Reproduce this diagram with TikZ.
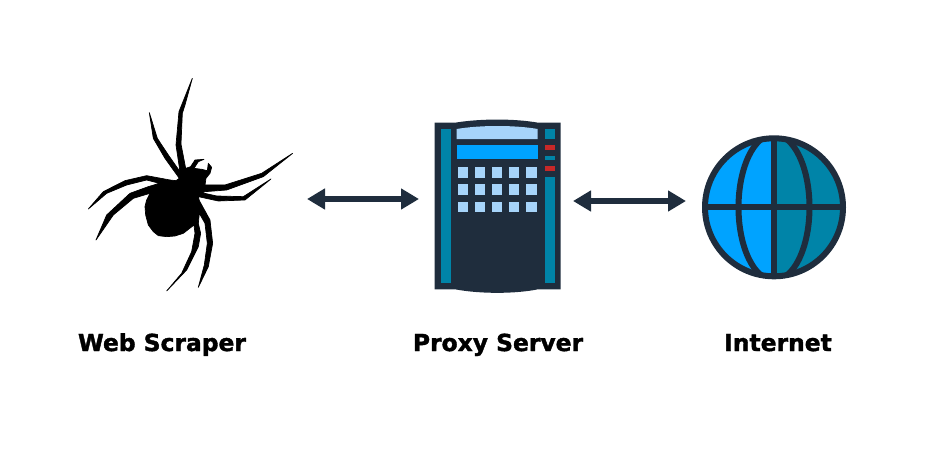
\documentclass[tikz,border=0pt]{standalone}
\usepackage{fontspec}
\setmainfont{DejaVu Sans}
\newfontfamily\labelfont[FakeBold=1.6]{DejaVu Sans Bold}
\usetikzlibrary{arrows.meta,positioning}

\definecolor{navy}{HTML}{1F2D3D}
\definecolor{skyblue}{HTML}{00A3FF}
\definecolor{teal}{HTML}{0084A8}
\definecolor{pale}{HTML}{A6D4FA}
\definecolor{alarm}{HTML}{C62828}

\begin{document}
\begin{tikzpicture}[
  x=1pt, y=-1pt,
  label/.style={font=\labelfont\fontsize{23.4}{25}\selectfont, text=black, inner sep=0pt, anchor=base},
  arrow/.style={{Triangle[length=18pt,width=20pt]}-{Triangle[length=18pt,width=20pt]}, line width=6pt, draw=navy},
  key/.style={fill=pale, minimum size=10.3pt, inner sep=0pt, draw=none},
  strip/.style={fill=teal},
  globeline/.style={navy, line width=6pt}
]
\useasboundingbox (0,0) rectangle (929,461);

% spider
\begin{scope}[shift={(70,70)}, x=0.3333pt, y=-0.3333pt]
\filldraw[black, line width=0.7pt, line join=round] (330,305) -- (318,225) -- (327,125) -- (337,100) -- (367,25) -- (345,105) -- (337,130) -- (333,222) -- (347,295)
  -- (362,290) -- (375,270) -- (402,268) -- (385,275) -- (372,295) -- (395,298) -- (412,302) -- (415,280) -- (425,292) -- (420,310) -- (408,325) -- (405,345)
  -- (465,345) -- (575,310) -- (668,250) -- (580,320) -- (470,360) -- (405,365) -- (395,368)
  -- (440,378) -- (520,380) -- (603,327) -- (525,390) -- (445,393) -- (385,380) -- (388,392)
  -- (420,450) -- (428,520) -- (415,590) -- (385,652) -- (403,585) -- (412,520) -- (405,460) -- (388,430)
  -- (385,460) -- (392,490) -- (385,530) -- (350,600) -- (290,663) -- (335,610) -- (365,545) -- (375,490) -- (372,465)
  -- (340,490) -- (315,498) -- (290,500) -- (265,497) -- (250,485) -- (235,465) -- (227,435) -- (225,410) -- (230,390) -- (240,370)
  -- (190,385) -- (130,435) -- (78,510) -- (110,435) -- (180,370) -- (235,350) -- (268,340)
  -- (230,330) -- (170,345) -- (110,370) -- (55,417) -- (100,365) -- (165,332) -- (230,317) -- (300,330) -- (318,332) -- (328,325)
  -- (285,265) -- (250,205) -- (238,128) -- (262,205) -- (295,255) -- cycle;
\end{scope}

% proxy server
\fill[navy] (434.5,122.7) -- (455,122.7) .. controls (480,118.5) and (515,118.5) .. (538,122.7) -- (560.7,122.7)
  -- (560.7,289.3) -- (538,289.3) .. controls (515,294) and (480,294) .. (455,289.3) -- (434.5,289.3) -- cycle;
\fill[strip] (440.7,129) rectangle (451,283.3);
\fill[strip] (544.7,129) rectangle (555,139);
\fill[alarm] (544.7,145) rectangle (555,150);
\fill[strip] (544.7,156) rectangle (555,160);
\fill[alarm] (544.7,166) rectangle (555,171.3);
\fill[strip] (544.7,177.3) rectangle (555,283.3);
\fill[pale] (456.7,129) .. controls (480,125) and (515,125) .. (537.7,129) -- (537.7,139) -- (456.7,139) -- cycle;
\fill[skyblue] (456.7,145) rectangle (537.7,159.3);
\foreach \col in {0,...,4}
  \foreach \row in {0,...,2}
    \node[key] (key\col\row) at ({462.8+17.15*\col},{172.5+17.1*\row}) {};

% globe
\fill[skyblue] (774,138.3) arc[start angle=-90, end angle=-270, radius=69] -- cycle;
\fill[teal] (774,138.3) arc[start angle=-90, end angle=90, radius=69] -- cycle;
\begin{scope}
\clip (774,207.3) circle[radius=69];
\draw[globeline] (774,207.3) ellipse[x radius=35.5, y radius=73];
\end{scope}
\draw[globeline] (774,207.3) circle[radius=69];
\draw[globeline] (774,138.3) -- (774,276.3);
\draw[globeline] (705,207.3) -- (843,207.3);

% arrows
\coordinate (scraper) at (307,199);
\coordinate (proxyin) at (419,199);
\coordinate (proxyout) at (573,201);
\coordinate (internet) at (686,201);
\draw[arrow] (scraper) -- (proxyin);
\draw[arrow] (proxyout) -- (internet);

\node[label] (scraperlabel) at (162,351) {Web Scraper};
\node[label] (proxylabel) at (498,351) {Proxy Server};
\node[label] (internetlabel) at (778,351) {Internet};

\end{tikzpicture}
\end{document}
